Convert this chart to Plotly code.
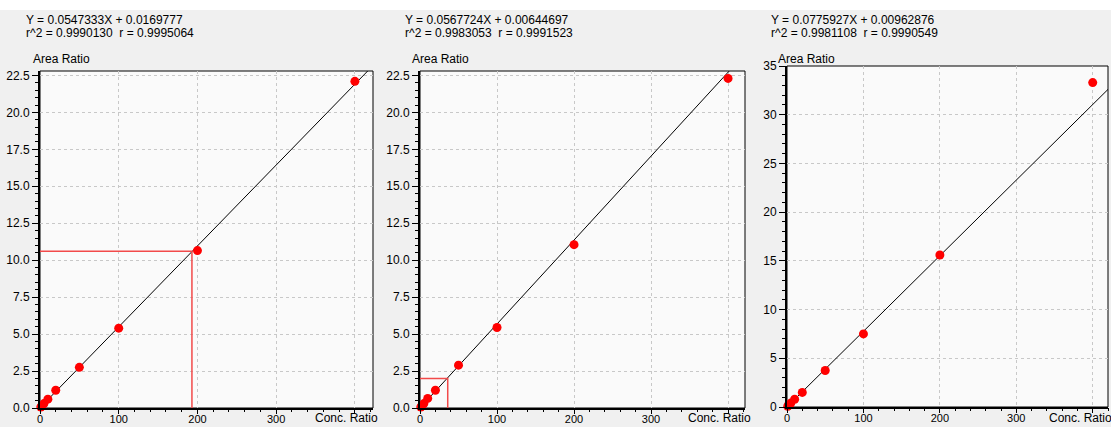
import plotly.graph_objects as go

W, H = 1111, 427

conc = [1, 2, 5, 10, 20, 50, 100, 200, 400]
area1 = [0.06, 0.12, 0.3, 0.6, 1.2, 2.75, 5.4, 10.65, 22.1]
area2 = [0.06, 0.12, 0.3, 0.65, 1.2, 2.9, 5.45, 11.05, 22.3]
area3 = [0.08, 0.16, 0.4, 0.8, 1.5, 3.75, 7.5, 15.6, 33.3]

slopes = [0.0547333, 0.0567724, 0.0775927]
intercepts = [0.0169777, 0.00644697, 0.00962876]
eq_lines = [
    ("Y = 0.0547333X + 0.0169777", "r^2 = 0.9990130  r = 0.9995064"),
    ("Y = 0.0567724X + 0.00644697", "r^2 = 0.9983053  r = 0.9991523"),
    ("Y = 0.0775927X + 0.00962876", "r^2 = 0.9981108  r = 0.9990549"),
]

# crosshair marks
cross1_x = [0, 193, 193]
cross1_y = [10.6, 10.6, 0]
cross2_x = [0, 36, 36]
cross2_y = [2.0, 2.0, 0]

x_ticks = [0, 100, 200, 300, 400]
x_ticktext = ["0", "100", "200", "300", ""]

panels = [
    dict(area=area1, xpx=(40, 373), ypx=(71, 408), xr=[0, 423], yr=[0, 22.8], dy=2.5, mdy=0.5, fmt=".1f",
         eqx=24, arx=31, cr=(313, 418)),
    dict(area=area2, xpx=(420, 745), ypx=(71, 408), xr=[0, 422], yr=[0, 22.8], dy=2.5, mdy=0.5, fmt=".1f",
         eqx=403, arx=410, cr=(686, 418)),
    dict(area=area3, xpx=(787, 1108), ypx=(66, 407), xr=[0, 420], yr=[0, 35], dy=5, mdy=1, fmt="d",
         eqx=769, arx=776, cr=(1047, 418)),
]

FONT = "Liberation Sans, Arial, sans-serif"
fig = go.Figure()
shapes = [dict(type="rect", xref="paper", yref="paper", x0=0, x1=1, y0=(H - 10) / H, y1=1,
               fillcolor="white", line=dict(width=0), layer="below")]
annotations = []

for i, p in enumerate(panels):
    n = "" if i == 0 else str(i + 1)
    xa, ya = "x" + n, "y" + n
    tn = str(i + 4)
    # regression line
    lx = [0, p["xr"][1]]
    ly = [intercepts[i] + slopes[i] * v for v in lx]
    fig.add_trace(go.Scatter(x=lx, y=ly, mode="lines", line=dict(color="black", width=1),
                             xaxis=xa, yaxis=ya, showlegend=False, hoverinfo="skip"))
    if i == 0:
        fig.add_trace(go.Scatter(x=cross1_x, y=cross1_y, mode="lines", line=dict(color="#f24a4a", width=1.5),
                                 xaxis=xa, yaxis=ya, showlegend=False))
    if i == 1:
        fig.add_trace(go.Scatter(x=cross2_x, y=cross2_y, mode="lines", line=dict(color="#f24a4a", width=1.5),
                                 xaxis=xa, yaxis=ya, showlegend=False))
    fig.add_trace(go.Scatter(x=conc, y=p["area"], mode="markers",
                             marker=dict(color="#ff0000", size=9, line=dict(width=0)),
                             xaxis=xa, yaxis=ya, showlegend=False, cliponaxis=False))
    xd = [p["xpx"][0] / W, p["xpx"][1] / W]
    yd = [(H - p["ypx"][1]) / H, (H - p["ypx"][0]) / H]
    common = dict(showline=True, linecolor="black", linewidth=2, tickcolor="black", tickwidth=1,
                  showgrid=True, gridcolor="#c8c8c8", griddash="3px,3px",
                  gridwidth=1, zeroline=False, fixedrange=True, automargin=False)
    fig.update_layout(**{
        ("xaxis" + n): dict(domain=xd, range=p["xr"], anchor=ya, tickvals=x_ticks, ticktext=x_ticktext,
                            ticks="", tickfont=dict(family=FONT, size=11, color="black"), **common),
        # tick-mark-only overlay axis
        ("xaxis" + tn): dict(domain=xd, range=p["xr"], anchor=ya, overlaying=xa, tickvals=x_ticks,
                             showticklabels=False, ticks="outside", ticklen=5, tickcolor="black",
                             showgrid=False, showline=False, zeroline=False, fixedrange=True,
                             automargin=False,
                             minor=dict(dtick=20, tick0=0, ticks="outside", ticklen=3,
                                        tickcolor="black", showgrid=False)),
        ("yaxis" + n): dict(domain=yd, range=p["yr"], anchor=xa, dtick=p["dy"], tick0=0, tickformat=p["fmt"],
                            ticks="outside", ticklen=6, tickfont=dict(family=FONT, size=12, color="black"),
                            minor=dict(dtick=p["mdy"], tick0=0, ticks="outside", ticklen=3,
                                       tickcolor="black", showgrid=False), **common),
    })
    # invisible trace so overlay axis renders
    fig.add_trace(go.Scatter(x=[p["xr"][0]], y=[p["yr"][0]], mode="markers", marker=dict(opacity=0),
                             xaxis="x" + tn, yaxis=ya, showlegend=False, hoverinfo="skip"))
    shapes.append(dict(type="rect", xref="paper", yref="paper", x0=xd[0], x1=xd[1], y0=yd[0], y1=yd[1],
                       fillcolor="#fafafa", line=dict(color="black", width=1), layer="below"))
    annotations.append(dict(text=eq_lines[i][0], x=p["eqx"] / W, y=(H - 20) / H, xref="paper", yref="paper",
                            xanchor="left", yanchor="middle", showarrow=False,
                            font=dict(family=FONT, size=12, color="black")))
    annotations.append(dict(text=eq_lines[i][1], x=p["eqx"] / W, y=(H - 33) / H, xref="paper", yref="paper",
                            xanchor="left", yanchor="middle", showarrow=False,
                            font=dict(family=FONT, size=12, color="black")))
    annotations.append(dict(text="Area Ratio", x=p["arx"] / W, y=(H - 59) / H, xref="paper", yref="paper",
                            xanchor="left", yanchor="middle", showarrow=False,
                            font=dict(family=FONT, size=12, color="black")))
    annotations.append(dict(text="Conc. Ratio", x=p["cr"][0] / W, y=(H - p["cr"][1]) / H, xref="paper",
                            yref="paper", xanchor="left", yanchor="middle", showarrow=False,
                            font=dict(family=FONT, size=12, color="black")))

fig.update_layout(width=W, height=H, margin=dict(l=0, r=0, t=0, b=0, pad=0), paper_bgcolor="#f0f0f0",
                  plot_bgcolor="rgba(0,0,0,0)", shapes=shapes, annotations=annotations)

fig.write_html("out.html")
